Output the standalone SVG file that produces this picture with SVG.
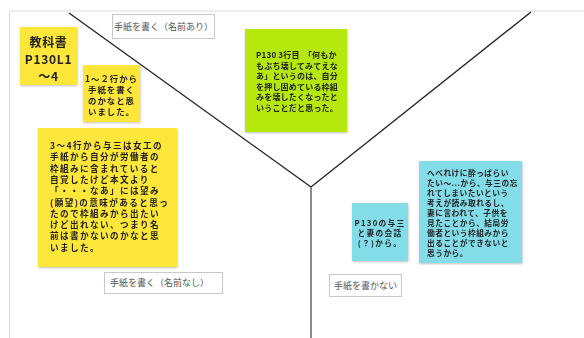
<svg xmlns="http://www.w3.org/2000/svg" width="584" height="338" viewBox="0 0 584 338">
<defs>
<filter id="sh" x="-10%" y="-10%" width="130%" height="130%">
<feDropShadow dx="0.5" dy="1" stdDeviation="0.8" flood-color="#000" flood-opacity="0.25"/>
</filter>
</defs>
<style>
.note{filter:url(#sh);}
.y{fill:#ffe63b;}
.g{fill:#b5e80a;}
.c{fill:#82dde9;}
.t{font-family:"Noto Sans CJK JP","Noto Sans",sans-serif;font-weight:bold;fill:#222;}
.lab rect{fill:#fff;stroke:#c8c8c8;stroke-width:1;}
.lab text{font-family:"Noto Sans CJK JP",sans-serif;font-size:9px;fill:#555;}
.ln{stroke:#222;stroke-width:1.3;fill:none;}
</style>
<rect width="584" height="338" fill="#fff"/>
<g id="frame">
<line x1="9.5" y1="11" x2="584" y2="11" stroke="#dcdcdc" stroke-width="1"/>
<line x1="9.5" y1="11" x2="9.5" y2="338" stroke="#dcdcdc" stroke-width="1"/>
</g>
<g id="connectors">
<line class="ln" x1="69" y1="13" x2="311" y2="187"/>
<line class="ln" x1="531" y1="12" x2="311" y2="187"/>
<line x1="311" y1="187" x2="311" y2="338" stroke="#666" stroke-width="1.5"/>
</g>
<g id="label-ari" class="lab">
<rect x="112.5" y="14.5" width="102" height="24"/>
<text x="163.5" y="29.5" text-anchor="middle">手紙を書く（名前あり）</text>
</g>
<g id="label-nashi" class="lab">
<rect x="104.5" y="272.5" width="118" height="21"/>
<text x="110" y="286">手紙を書く（名前なし）</text>
</g>
<g id="label-kakanai" class="lab">
<rect x="329.5" y="274.5" width="72" height="22"/>
<text x="365.5" y="289" text-anchor="middle">手紙を書かない</text>
</g>
<g id="note-kyokasho" class="note">
<rect class="y" x="20" y="27" width="57" height="58"/>
<text class="t" font-size="12" letter-spacing="0.7" text-anchor="middle"><tspan x="48.5" y="46.5">教科書</tspan><tspan x="48.5" y="63.5">P130L1</tspan><tspan x="48.5" y="80.5">〜4</tspan></text>
</g>
<g id="note-1-2" class="note">
<rect class="y" x="83" y="65" width="57" height="57"/>
<text class="t" font-size="8.4" letter-spacing="1" text-anchor="middle"><tspan x="111.5" y="82">1〜２行から</tspan><tspan x="111.5" y="93">手紙を書く</tspan><tspan x="111.5" y="104">のかなと思</tspan><tspan x="111.5" y="115">いました。</tspan></text>
</g>
<g id="note-p130-3" class="note">
<rect class="g" x="245" y="29" width="102" height="103"/>
<text class="t" font-size="8" letter-spacing="0.2"><tspan x="256" y="58">P130 3行目　「何もか</tspan><tspan x="256" y="68.5">もぶち壊してみてえな</tspan><tspan x="256" y="79">あ」というのは、自分</tspan><tspan x="256" y="89.5">を押し固めている枠組</tspan><tspan x="256" y="100">みを壊したくなったと</tspan><tspan x="256" y="110.5">いうことだと思った。</tspan></text>
</g>
<g id="note-3-4" class="note">
<rect class="y" x="38" y="128" width="139" height="139"/>
<text class="t" font-size="8.6" letter-spacing="1.4"><tspan x="50" y="149">3〜4行から与三は女工の</tspan><tspan x="50" y="160.3">手紙から自分が労働者の</tspan><tspan x="50" y="171.6">枠組みに含まれていると</tspan><tspan x="50" y="182.9">自覚したけど本文より</tspan><tspan x="50" y="194.2">「・・・なあ」には望み</tspan><tspan x="50" y="205.5">(願望)の意味があると思っ</tspan><tspan x="50" y="216.8">たので枠組みから出たい</tspan><tspan x="50" y="228.1">けど出れない、つまり名</tspan><tspan x="50" y="239.4">前は書かないのかなと思</tspan><tspan x="50" y="250.7">いました。</tspan></text>
</g>
<g id="note-p130-kaiwa" class="note">
<rect class="c" x="352" y="203" width="56" height="58"/>
<text class="t" font-size="7.7" letter-spacing="1.3" text-anchor="middle"><tspan x="380" y="225.5">P130の与三</tspan><tspan x="380" y="235.5">と妻の会話</tspan><tspan x="380" y="245.5">(？)から。</tspan></text>
</g>
<g id="note-hebereke" class="note">
<rect class="c" x="419" y="161" width="103" height="102"/>
<text class="t" font-size="7.7" letter-spacing="0.5"><tspan x="427" y="176">へべれけに酔っぱらい</tspan><tspan x="427" y="186">たい〜...から、与三の忘</tspan><tspan x="427" y="196">れてしまいたいという</tspan><tspan x="427" y="206">考えが読み取れるし、</tspan><tspan x="427" y="216">妻に言われて、子供を</tspan><tspan x="427" y="226">見たことから、結局労</tspan><tspan x="427" y="236">働者という枠組みから</tspan><tspan x="427" y="246">出ることができないと</tspan><tspan x="427" y="256">思うから。</tspan></text>
</g>
</svg>
